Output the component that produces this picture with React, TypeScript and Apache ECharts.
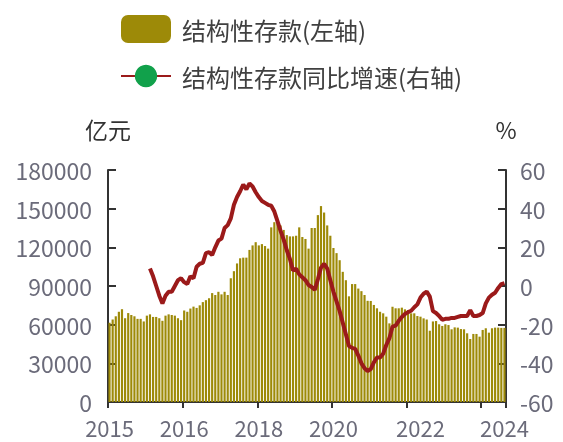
import React, { useEffect, useRef } from "react";
import * as echarts from "echarts";

// Monthly categories, 2014-01 onward (128 months)
const startYear = 2014;
const monthCount = 128;
const categories: string[] = [];
for (let i = 0; i < monthCount; i++) {
  const y = startYear + Math.floor(i / 12);
  const m = (i % 12) + 1;
  categories.push(`${y}-${m < 10 ? "0" + m : m}`);
}

// 结构性存款 (亿元)
const depositValues: number[] = [
  61500, 64000, 66500, 70000, 72000, 65000, 69000, 67500, 66500, 64500, 64500, 62500,
  67000, 68000, 66000, 66000, 65000, 63000, 67000, 68000, 67500, 67000, 65000, 63500,
  71000, 70000, 72500, 74000, 73000, 75000, 77500, 79000, 80500, 84500, 83000, 85500,
  83500, 85500, 83000, 96000, 101500, 107500, 111500, 112000, 112000, 118000, 121500, 124000,
  121500, 122500, 121000, 119000, 135500, 139500, 138000, 137000, 133500, 129500, 128500, 128500,
  129000, 135500, 128000, 126500, 119000, 135000, 135000, 145000, 152000, 147000, 137000, 129000,
  119500, 115500, 110000, 101000, 94500, 82000, 91500, 91500, 88000, 86000, 83000, 78500,
  78400, 75300, 72700, 70000, 68800, 66200, 61000, 73900, 72700, 72700, 73200, 71900,
  71400, 68800, 68800, 66700, 66200, 64900, 64000, 55300, 62500, 62800, 60300, 59000,
  60300, 59700, 56400, 57900, 57700, 56600, 56400, 53300, 48900, 52800, 52800, 50700,
  55900, 57200, 53800, 57200, 57700, 57700, 57500, 57500,
];

// 结构性存款同比增速 (%), starts at 2015-02
const growthStart = "2015-02";
const growthValues: number[] = [
  9, 5, 0, -5, -9, -5, -3, -3, 0, 3, 4, 2,
  1, 5, 4, 10, 11.5, 12, 17, 17.5, 16, 20, 23.5, 24.5,
  30, 31.5, 35, 42, 46, 49, 52.5, 50, 53, 51.5, 48.5, 46,
  44, 43, 42, 41.5, 38.5, 33.5, 28.5, 24, 18.5, 14, 8, 9,
  6, 4.5, 3, 0.5, -0.5, -2, 3.5, 9.5, 11.5, 9, 3, -3,
  -8, -13, -19, -25, -31, -32, -32.5, -36, -40, -42.5, -44, -43,
  -39.5, -37, -37, -35, -30.5, -27, -21, -20.5, -18, -16, -14.5, -13.5,
  -12.8, -11, -9.5, -6, -4, -2.9, -5.5, -13, -14, -15.5, -17.5, -17,
  -17, -16.5, -16.5, -16, -15.5, -15.5, -15.5, -12.5, -15.5, -15.5, -15, -14,
  -9, -6, -4.5, -3.5, -1, 1, 1.5,
];

// x-axis labels and the months they sit on
const xTickLabels = ["2015", "2016", "2018", "2020", "2022", "2024"];
const xTickLabelMonths = ["2014-01", "2016-01", "2018-01", "2020-01", "2022-05", "2024-08"];

const leftTicks = { min: 0, max: 180000, interval: 30000 };
const rightTicks = { min: -60, max: 60, interval: 20 };

export default function App() {
  const ref = useRef<HTMLDivElement>(null);
  useEffect(() => {
    if (!ref.current) return;
    const chart = echarts.init(ref.current, undefined, { renderer: "svg" });
    const startIdx = categories.indexOf(growthStart);
    const lineData: (number | null)[] = categories.map((_, i) =>
      i >= startIdx && i - startIdx < growthValues.length ? growthValues[i - startIdx] : null
    );
    const labelIdx = xTickLabelMonths.map((m) => categories.indexOf(m));
    const labelColor = "#6B6B7A";
    const axisColor = "#333333";
    chart.setOption({
      animation: false,
      textStyle: { fontFamily: "Noto Sans CJK SC" },
      legend: {
        orient: "vertical",
        left: 115,
        top: 10,
        itemWidth: 50,
        itemHeight: 28,
        itemGap: 21,
        textStyle: { fontSize: 24, color: "#404040", padding: [0, 0, 0, 6] },
        data: ["结构性存款(左轴)", "结构性存款同比增速(右轴)"],
      },
      grid: { left: 108, right: 57, top: 170, bottom: 40 },
      xAxis: {
        type: "category",
        data: categories,
        boundaryGap: true,
        axisLine: { show: true, lineStyle: { color: axisColor, width: 2 } },
        axisTick: {
          show: true,
          interval: (i: number) => i % 24 === 0,
          length: 6,
          lineStyle: { color: axisColor, width: 2 },
        },
        axisLabel: {
          interval: (i: number) => labelIdx.includes(i),
          formatter: (_v: string, i: number) => {
            const k = labelIdx.indexOf(i);
            return k >= 0 ? xTickLabels[k] : "";
          },
          fontSize: 22,
          lineHeight: 20,
          color: labelColor,
          margin: 15,
        },
        splitLine: { show: false },
      },
      yAxis: [
        {
          type: "value",
          ...leftTicks,
          name: "亿元",
          nameLocation: "end",
          nameGap: 30,
          nameTextStyle: { fontSize: 23, color: axisColor, align: "center" },
          axisLine: { show: true, lineStyle: { color: axisColor, width: 2 } },
          axisTick: { show: true, inside: true, length: 8, lineStyle: { color: axisColor, width: 2 } },
          axisLabel: { fontSize: 23, lineHeight: 21, color: labelColor, margin: 16, formatter: (v: number) => String(v) },
          splitLine: { show: false },
        },
        {
          type: "value",
          position: "right",
          ...rightTicks,
          name: "%",
          nameLocation: "end",
          nameGap: 30,
          nameTextStyle: { fontSize: 23, color: axisColor, align: "center" },
          axisLine: { show: true, lineStyle: { color: axisColor, width: 2 } },
          axisTick: { show: true, inside: true, length: 8, lineStyle: { color: axisColor, width: 2 } },
          axisLabel: { fontSize: 23, lineHeight: 21, color: labelColor, margin: 14, formatter: (v: number) => String(v) },
          splitLine: { show: false },
        },
      ],
      series: [
        {
          name: "结构性存款(左轴)",
          type: "bar",
          data: depositValues,
          barCategoryGap: "30%",
          itemStyle: { color: "#9D8A08" },
        },
        {
          name: "结构性存款同比增速(右轴)",
          type: "line",
          yAxisIndex: 1,
          data: lineData,
          showSymbol: false,
          symbol: "circle",
          itemStyle: { color: "#11A14B" },
          lineStyle: { color: "#9B1A1A", width: 4 },
          z: 5,
        },
      ],
    });
    return () => chart.dispose();
  }, []);
  return (
    <div
      ref={ref}
      style={{ position: "fixed", left: 0, top: 0, width: 563, height: 442 }}
    />
  );
}
